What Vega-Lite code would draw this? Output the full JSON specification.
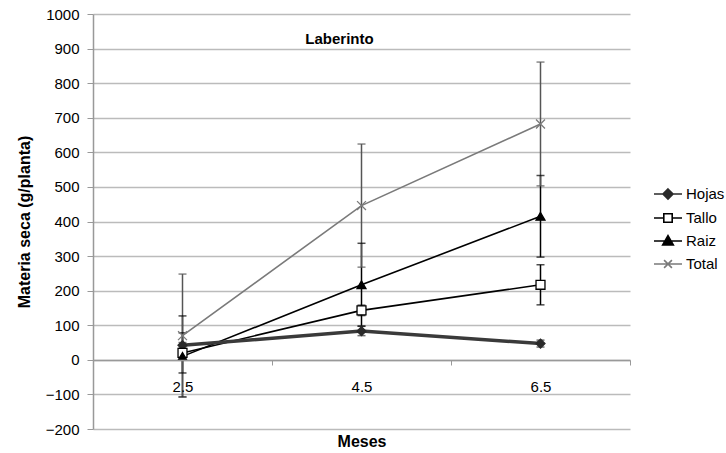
{
  "$schema": "https://vega.github.io/schema/vega-lite/v6.json",
  "autosize": "none",
  "width": 537,
  "height": 415,
  "padding": {"left": 93, "top": 14, "right": 96, "bottom": 24},
  "background": "white",
  "config": {
    "view": {"stroke": null},
    "font": "Liberation Sans",
    "axisY": {
      "titleFontSize": 16, "titleFontWeight": "bold", "titleColor": "black", "titlePadding": 13,
      "labelFontSize": 15, "labelColor": "black", "labelPadding": 8, "labelOverlap": false,
      "domainColor": "#999999", "domainWidth": 1.5, "tickColor": "#999999", "tickSize": 6,
      "grid": true, "gridColor": "#bbbbbb", "gridWidth": 1.5
    }
  },
  "title": {"text": "Laberinto", "fontSize": 15, "fontWeight": "bold", "font": "Liberation Sans", "color": "black", "offset": -40, "dx": -22},
  "data": {"values": [
    {"mes": "2.5", "serie": "Hojas", "v": 42, "lo": 34, "hi": 50},
    {"mes": "2.5", "serie": "Tallo", "v": 20, "lo": -38, "hi": 78},
    {"mes": "2.5", "serie": "Raiz", "v": 10, "lo": -107, "hi": 127},
    {"mes": "2.5", "serie": "Total", "v": 70, "lo": -108, "hi": 248},
    {"mes": "4.5", "serie": "Hojas", "v": 83, "lo": 70, "hi": 98},
    {"mes": "4.5", "serie": "Tallo", "v": 143, "lo": 128, "hi": 158},
    {"mes": "4.5", "serie": "Raiz", "v": 217, "lo": 97, "hi": 337},
    {"mes": "4.5", "serie": "Total", "v": 446, "lo": 268, "hi": 624},
    {"mes": "6.5", "serie": "Hojas", "v": 47, "lo": 37, "hi": 57},
    {"mes": "6.5", "serie": "Tallo", "v": 217, "lo": 159, "hi": 275},
    {"mes": "6.5", "serie": "Raiz", "v": 415, "lo": 297, "hi": 533},
    {"mes": "6.5", "serie": "Total", "v": 682, "lo": 503, "hi": 861}
  ]},
  "encoding": {
    "x": {
      "field": "mes", "type": "ordinal",
      "scale": {"type": "band", "paddingInner": 0, "paddingOuter": 0},
      "axis": {
        "title": "Meses", "titleFontSize": 16, "titleFontWeight": "bold", "titleColor": "black", "titlePadding": 39,
        "labelAngle": 0, "labelFontSize": 15, "labelColor": "black", "labelPadding": 14,
        "offset": -69, "domainColor": "#999999", "domainWidth": 1.5,
        "tickColor": "#999999", "tickSize": 5, "tickWidth": 1, "tickBand": "extent", "grid": false, "zindex": 1
      }
    }
  },
  "layer": [
    {
      "mark": {"type": "rule", "strokeWidth": 1.5},
      "encoding": {
        "y": {
          "field": "lo", "type": "quantitative",
          "scale": {"domain": [-200, 1000], "nice": false, "zero": false},
          "axis": {"title": "Materia seca (g/planta)", "format": "d", "values": [-200, -100, 0, 100, 200, 300, 400, 500, 600, 700, 800, 900, 1000]}
        },
        "y2": {"field": "hi"},
        "stroke": {"field": "serie", "type": "nominal", "scale": {"domain": ["Hojas", "Tallo", "Raiz", "Total"], "range": ["#333333", "#000000", "#000000", "#555555"]}, "legend": null}
      }
    },
    {
      "mark": {"type": "tick", "size": 8, "thickness": 1.5},
      "encoding": {
        "y": {"field": "hi", "type": "quantitative", "axis": {"title": "Materia seca (g/planta)", "format": "d", "values": [-200, -100, 0, 100, 200, 300, 400, 500, 600, 700, 800, 900, 1000]}},
        "color": {"field": "serie", "type": "nominal", "scale": {"domain": ["Hojas", "Tallo", "Raiz", "Total"], "range": ["#333333", "#000000", "#000000", "#555555"]}, "legend": null}
      }
    },
    {
      "mark": {"type": "tick", "size": 8, "thickness": 1.5},
      "encoding": {
        "y": {"field": "lo", "type": "quantitative", "axis": {"title": "Materia seca (g/planta)", "format": "d", "values": [-200, -100, 0, 100, 200, 300, 400, 500, 600, 700, 800, 900, 1000]}},
        "color": {"field": "serie", "type": "nominal", "scale": {"domain": ["Hojas", "Tallo", "Raiz", "Total"], "range": ["#333333", "#000000", "#000000", "#555555"]}, "legend": null}
      }
    },
    {
      "mark": {"type": "line", "strokeWidth": 1.6},
      "encoding": {
        "y": {"field": "v", "type": "quantitative", "axis": {"title": "Materia seca (g/planta)", "format": "d", "values": [-200, -100, 0, 100, 200, 300, 400, 500, 600, 700, 800, 900, 1000]}},
        "color": {"field": "serie", "type": "nominal", "scale": {"domain": ["Hojas", "Tallo", "Raiz", "Total"], "range": ["#333333", "#000000", "#000000", "#7a7a7a"]}, "legend": null}
      }
    },
    {
      "transform": [{"filter": {"field": "serie", "equal": "Hojas"}}],
      "mark": {"type": "line", "strokeWidth": 3.5, "color": "#3a3a3a"},
      "encoding": {
        "y": {"field": "v", "type": "quantitative", "axis": {"title": "Materia seca (g/planta)", "format": "d", "values": [-200, -100, 0, 100, 200, 300, 400, 500, 600, 700, 800, 900, 1000]}}
      }
    },
    {
      "mark": {"type": "point", "filled": true, "size": 80, "strokeWidth": 1.3, "opacity": 1},
      "encoding": {
        "y": {"field": "v", "type": "quantitative", "axis": {"title": "Materia seca (g/planta)", "format": "d", "values": [-200, -100, 0, 100, 200, 300, 400, 500, 600, 700, 800, 900, 1000]}},
        "shape": {"field": "serie", "type": "nominal", "scale": {"domain": ["Hojas", "Tallo", "Raiz", "Total"], "range": ["diamond", "square", "triangle-up", "M-1,-1L1,1M-1,1L1,-1"]}, "legend": null},
        "fill": {"field": "serie", "type": "nominal", "scale": {"domain": ["Hojas", "Tallo", "Raiz", "Total"], "range": ["#2a2a2a", "#ffffff", "#000000", "transparent"]}, "legend": null},
        "stroke": {"field": "serie", "type": "nominal", "scale": {"domain": ["Hojas", "Tallo", "Raiz", "Total"], "range": ["#2a2a2a", "#000000", "#000000", "#7a7a7a"]}, "legend": null}
      }
    },
    {
      "mark": {"type": "point", "filled": true, "size": 784, "strokeWidth": 1.5, "opacity": 0},
      "encoding": {
        "y": {"field": "v", "type": "quantitative", "axis": {"title": "Materia seca (g/planta)", "format": "d", "values": [-200, -100, 0, 100, 200, 300, 400, 500, 600, 700, 800, 900, 1000]}},
        "shape": {
          "field": "serie", "type": "nominal",
          "scale": {"domain": ["Hojas", "Tallo", "Raiz", "Total"], "range": [
            "M-1,0L1,0M0,-0.36L0.36,0L0,0.36L-0.36,0Z",
            "M-1,0L-0.3,0M0.3,0L1,0M-0.3,-0.3L0.3,-0.3L0.3,0.3L-0.3,0.3Z",
            "M-1,0L1,0M0,-0.38L0.38,0.28L-0.38,0.28Z",
            "M-1,0L1,0M-0.28,-0.28L0.28,0.28M-0.28,0.28L0.28,-0.28"
          ]},
          "legend": {
            "title": null, "orient": "none", "legendX": 560, "legendY": 165,
            "padding": 0, "rowPadding": -1, "symbolOpacity": 1, "symbolSize": 784, "symbolStrokeWidth": 1.6,
            "labelFontSize": 15, "labelColor": "black", "labelOffset": 3, "labelFont": "Liberation Sans"
          }
        },
        "fill": {"field": "serie", "type": "nominal", "scale": {"domain": ["Hojas", "Tallo", "Raiz", "Total"], "range": ["#2a2a2a", "#ffffff", "#000000", "transparent"]}, "legend": {"title": null}},
        "stroke": {"field": "serie", "type": "nominal", "scale": {"domain": ["Hojas", "Tallo", "Raiz", "Total"], "range": ["#2a2a2a", "#000000", "#000000", "#7a7a7a"]}, "legend": {"title": null}}
      }
    }
  ],
  "resolve": {
    "scale": {"color": "independent", "fill": "independent", "stroke": "independent", "shape": "independent"},
    "legend": {"color": "independent", "fill": "independent", "stroke": "independent", "shape": "independent"}
  }
}
